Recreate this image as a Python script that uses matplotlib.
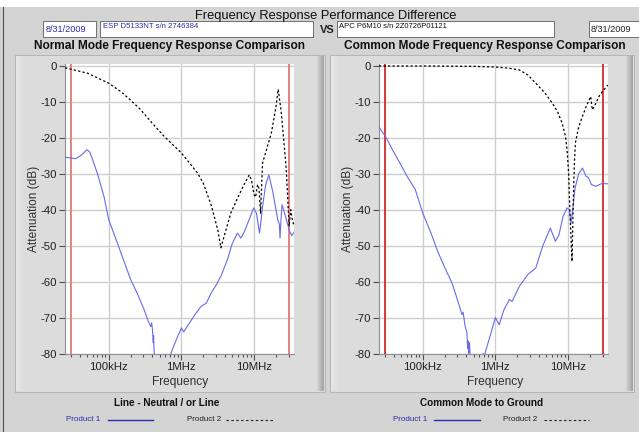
import numpy as np
import matplotlib
matplotlib.use('Agg')
import matplotlib.pyplot as plt
from matplotlib.patches import Rectangle
from matplotlib.lines import Line2D

# ---------------- data ----------------
nm_p1_freq = [25e3, 30e3, 35e3, 42e3, 50e3, 55e3, 60e3, 70e3, 86e3, 100e3, 130e3, 160e3, 200e3,
              250e3, 307e3, 350e3, 380e3, 390e3, 400e3, 410e3, 415e3, 420e3, 430e3, 500e3, 600e3,
              716e3, 800e3, 900e3, 1.0e6, 1.08e6, 1.2e6, 1.5e6, 1.86e6, 2.2e6, 2.6e6, 3.0e6, 3.5e6,
              4.3e6, 5.0e6, 5.9e6, 6.6e6, 7.4e6, 8.2e6, 9.9e6, 10.8e6, 11.9e6, 12.5e6, 13.1e6, 14.5e6,
              16.0e6, 18.1e6, 21.2e6, 22.3e6, 22.8e6, 23.3e6, 24.3e6, 26e6, 29.5e6, 31e6, 33e6, 35.5e6]
nm_p1_db = [-25.4, -25.6, -25.8, -24.8, -23.3, -24.0, -26.1, -30.0, -36.3, -42.8, -49.0, -54.0, -59.4,
            -63.5, -67.8, -71.0, -72.5, -71.5, -73.5, -77.0, -75.0, -79.0, -82.0, -87.0, -86.0,
            -80.0, -77.5, -75.0, -72.9, -74.0, -72.5, -69.5, -66.9, -66.0, -63.0, -61.0, -58.5,
            -53.9, -49.5, -46.5, -47.9, -46.0, -43.7, -39.5, -41.0, -46.5, -43.0, -39.0, -33.0,
            -30.3, -34.9, -42.8, -44.0, -47.9, -44.0, -38.6, -40.5, -44.6, -46.0, -47.2, -46.3]

nm_p2_freq = [25e3, 27e3, 35e3, 50.8e3, 77e3, 100e3, 146e3, 200e3, 276e3, 400e3, 580e3, 1.0e6,
              1.67e6, 2.0e6, 2.6e6, 3.2e6, 3.5e6, 3.8e6, 4.8e6, 6.0e6, 7.5e6, 8.6e6, 9.2e6, 10.0e6,
              10.5e6, 11.2e6, 11.7e6, 12.3e6, 13.1e6, 15e6, 17.3e6, 20e6, 21.5e6, 23.5e6, 25.5e6,
              27.8e6, 30.4e6, 32e6, 33.5e6, 35.5e6]
nm_p2_db = [-0.5, -0.65, -1.2, -2.0, -3.7, -4.8, -7.1, -9.5, -12.2, -16.0, -19.6, -24.2,
            -29.8, -32.6, -39.0, -46.0, -50.6, -48.0, -40.9, -36.5, -32.5, -30.3, -31.7, -35.8,
            -36.5, -33.0, -34.0, -41.0, -27.0, -23.0, -18.7, -11.5, -6.5, -12.2, -20.0,
            -28.9, -44.6, -40.0, -42.5, -44.6]

cm_p1_freq = [24.3e3, 30.7e3, 40e3, 50e3, 60e3, 79e3, 100e3, 130e3, 160e3, 200e3, 253e3, 300e3,
              347e3, 360e3, 380e3, 406e3, 415e3, 420e3, 428e3, 440e3, 450e3, 500e3, 600e3, 680e3,
              700e3, 742e3, 850e3, 1.0e6, 1.13e6, 1.3e6, 1.56e6, 1.7e6, 2.14e6, 2.8e6, 3.6e6,
              4.5e6, 5.7e6, 6.7e6, 7.5e6, 8.5e6, 9.7e6, 10.4e6, 11.0e6, 11.6e6, 12.5e6, 14e6,
              15.8e6, 17.7e6, 19e6, 21e6, 24.2e6, 27e6, 29.4e6, 35.5e6]
cm_p1_db = [-16.7, -19.6, -24.0, -27.5, -30.5, -34.4, -40.9, -46.5, -51.5, -56.0, -60.4, -65.0,
            -69.2, -68.5, -72.0, -74.3, -78.5, -76.5, -80.0, -77.0, -81.0, -86.0, -85.0, -80.0,
            -81.0, -79.0, -75.0, -70.0, -72.0, -68.0, -65.0, -65.5, -61.3, -58.0, -56.2,
            -50.0, -45.1, -48.8, -47.0, -42.0, -39.5, -40.0, -43.7, -40.0, -34.0, -30.0,
            -28.4, -30.7, -31.0, -33.0, -33.5, -33.0, -32.7, -32.8]

cm_p2_freq = [25e3, 100e3, 500e3, 1.0e6, 1.5e6, 2.14e6, 2.8e6, 3.6e6, 4.8e6, 6.1e6, 7.2e6, 8.3e6,
              9.2e6, 9.7e6, 10.2e6, 10.6e6, 11.0e6, 11.35e6, 11.6e6, 11.9e6, 12.3e6, 12.6e6, 14e6,
              15.8e6, 18e6, 20.5e6, 21.6e6, 24e6, 26.6e6, 30e6, 35.5e6]
cm_p2_db = [0.0, 0.0, -0.1, -0.3, -0.6, -1.1, -2.5, -4.8, -7.5, -10.4, -12.8, -15.9,
            -19.5, -23.3, -30.0, -40.0, -48.0, -54.4, -45.0, -35.0, -26.0, -21.5, -17.0,
            -14.0, -11.0, -8.5, -12.2, -10.5, -8.5, -7.0, -5.3]

y_ticks = [0, -10, -20, -30, -40, -50, -60, -70, -80]
y_tick_labels = ['0', '-10', '-20', '-30', '-40', '-50', '-60', '-70', '-80']
x_ticks = [1e5, 1e6, 1e7]
x_tick_labels = ['100kHz', '1MHz', '10MHz']
limit_freqs = [30e3, 30e6]

title = 'Frequency Response Performance Difference'
date1 = '8/31/2009'
prod1_name = 'ESP D5133NT s/n 2746384'
prod2_name = 'APC P6M10 s/n 2Z0726P01121'
date2 = '8/31/2009'
left_title = 'Normal Mode Frequency Response Comparison'
right_title = 'Common Mode Frequency Response Comparison'
left_caption = 'Line - Neutral / or Line'
right_caption = 'Common Mode to Ground'

# ---------------- figure ----------------
plt.rcParams['font.family'] = ['Liberation Sans', 'DejaVu Sans']
W, H = 639, 432
fig = plt.figure(figsize=(W / 100, H / 100), dpi=100)
fig.patch.set_facecolor('#d4d4d4')

BLUE_TXT = '#2b2ba8'
BLUE_LINE = '#6a6ae8'
DASH = (0, (1.8, 1.8))


def box(x0, y0, x1, y1):
    return [x0 / W, 1 - y1 / H, (x1 - x0) / W, (y1 - y0) / H]


def rect(x0, y0, x1, y1, **kw):
    r = Rectangle((x0 / W, 1 - y1 / H), (x1 - x0) / W, (y1 - y0) / H,
                  transform=fig.transFigure, zorder=0.5, **kw)
    fig.patches.append(r)


def seg(x0, y0, x1, y1, **kw):
    fig.add_artist(Line2D([x0 / W, x1 / W], [1 - y0 / H, 1 - y1 / H], transform=fig.transFigure, **kw))


def txt(x, y, s, **kw):
    fig.text(x / W, 1 - y / H, s, **kw)


# top white strip and left frame edge
rect(0, 0, W, 7, fc='white', ec='none')
seg(2.5, 7, 2.5, H, color='#505050', lw=0.8)

# graph panels with 3D-ish shading
for (x0, x1) in [(15, 325), (330, 634)]:
    rect(x0, 55, x1, 392, fc='#dcdcdc', ec='#a8a8a8', lw=0.5)
    shades = ['#e6e6e6', '#e3e3e3', '#e0e0e0', '#dedede']
    for i, c in enumerate(shades):
        rect(x0 + 1 + 2 * i, 56, x0 + 3 + 2 * i, 391, fc=c, ec='none')
    dark = ['#d2d2d2', '#cacaca', '#c2c2c2', '#bababa', '#b2b2b2', '#aaaaaa', '#a4a4a4']
    for i, c in enumerate(dark):
        rect(x1 - 8 + i, 56, x1 - 7 + i, 391, fc=c, ec='none')

# header texts and boxes
txt(326, 18.5, title, fontsize=9.3, ha='center', va='baseline', color='#101010')
for (x0, x1) in [(43, 96), (100, 313), (337, 554), (589, 645)]:
    rect(x0, 21, x1, 37, fc='white', ec='#707070', lw=0.7)
txt(45.5, 29.5, date1, fontsize=6.6, ha='left', va='center', color=BLUE_TXT)
txt(103, 26.5, prod1_name, fontsize=5.6, ha='left', va='center', color=BLUE_TXT)
txt(327, 30, 'VS', fontsize=8, ha='center', va='center', color='#202020', fontweight='bold')
txt(339, 26.5, prod2_name, fontsize=5.5, ha='left', va='center', color='#101010')
txt(591, 29.5, date2, fontsize=6.6, ha='left', va='center', color='#202020')

txt(170, 45.5, left_title, fontsize=8.6, ha='center', va='center', fontweight='bold', color='#101010')
txt(485, 45.5, right_title, fontsize=8.6, ha='center', va='center', fontweight='bold', color='#101010')


def setup(ax, red):
    ax.set_zorder(2)
    ax.set_facecolor('white')
    ax.set_xscale('log')
    ax.set_xlim(25e3, 35.5e6)
    ax.set_ylim(-80, 0.55)
    ax.grid(True, which='major', color='#cfcfcf', lw=1.0)
    ax.set_axisbelow(True)
    for s in ['top', 'right']:
        ax.spines[s].set_visible(False)
    for s in ['left', 'bottom']:
        ax.spines[s].set_color('#909090')
        ax.spines[s].set_linewidth(0.8)
    ax.set_yticks(y_ticks)
    ax.set_yticklabels(y_tick_labels)
    ax.set_xticks(x_ticks)
    ax.set_xticklabels(x_tick_labels)
    minors = [m * 10 ** e for e in range(4, 8) for m in range(2, 10)]
    ax.set_xticks([v for v in minors if 25e3 <= v <= 35.5e6], minor=True)
    ax.tick_params(axis='both', which='major', labelsize=8.2, colors='#505050',
                   labelcolor='#202020', length=4, width=0.8, direction='out', pad=2)
    ax.tick_params(axis='x', which='minor', length=2.5, width=0.8, colors='#505050',
                   direction='out')
    for f in limit_freqs:
        ax.axvline(f, color=red, lw=1.3, zorder=3)


ax1 = fig.add_axes(box(65, 64, 294, 353.5))
setup(ax1, '#e07878')
ax1.plot(nm_p1_freq, nm_p1_db, color=BLUE_LINE, lw=0.8, zorder=4)
ax1.plot(nm_p2_freq, nm_p2_db, color='black', lw=0.9, ls=DASH, zorder=5)

ax2 = fig.add_axes(box(379, 64, 608, 353.5))
setup(ax2, '#d42a2a')
ax2.plot(cm_p1_freq, cm_p1_db, color=BLUE_LINE, lw=0.8, zorder=4)
ax2.plot(cm_p2_freq, cm_p2_db, color='black', lw=0.9, ls=DASH, zorder=5)

# axis labels
txt(34, 209, 'Attenuation (dB)', fontsize=8.6, rotation=90, ha='center', va='center', color='#303030')
txt(348, 209, 'Attenuation (dB)', fontsize=8.6, rotation=90, ha='center', va='center', color='#303030')
txt(180, 381.5, 'Frequency', fontsize=8.6, ha='center', va='center', color='#303030')
txt(495, 381.5, 'Frequency', fontsize=8.6, ha='center', va='center', color='#303030')

# bottom captions / legends
txt(167, 403, left_caption, fontsize=7.2, ha='center', va='center', fontweight='bold', color='#101010')
txt(482, 403, right_caption, fontsize=7.2, ha='center', va='center', fontweight='bold', color='#101010')

for (p1x, l1, p2x, l2) in [(66, (108, 153), 187, (226, 273)), (393, (434, 480), 503, (544, 589))]:
    txt(p1x, 419.5, 'Product 1', fontsize=5.8, ha='left', va='center', color=BLUE_TXT)
    seg(l1[0], 419.5, l1[1], 419.5, color='#2b2bb0', lw=1.0)
    txt(p2x, 419.5, 'Product 2', fontsize=5.8, ha='left', va='center', color='#202020')
    seg(l2[0], 419.5, l2[1], 419.5, color='#202020', lw=0.8, ls=(0, (2.2, 2.2)))

fig.savefig('out.png', dpi=100, facecolor=fig.get_facecolor())
